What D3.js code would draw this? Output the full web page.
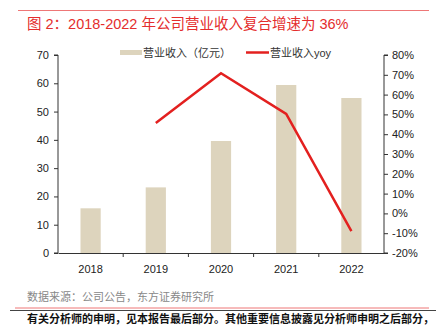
<!DOCTYPE html>
<html><head><meta charset="utf-8">
<script src="https://cdn.jsdelivr.net/npm/d3@7"></script>
<style>
body{margin:0;background:#fff;}
svg{display:block;}
text{font-family:"Liberation Sans",Arial,"Noto Sans CJK SC",sans-serif;}
.cjk{font-family:"Liberation Sans","Noto Sans CJK SC",sans-serif;}
</style></head>
<body>
<svg id="c" width="436" height="326"></svg>
<script>
const years = ["2018","2019","2020","2021","2022"];
const revenue = [15.8, 23.2, 39.6, 59.4, 54.8];
const yoyYears = ["2019","2020","2021","2022"];
const yoy = [45.7, 70.8, 50.2, -8.9];
const leftTicks = [0,10,20,30,40,50,60,70];
const rightTicks = [-20,-10,0,10,20,30,40,50,60,70,80];

const svg = d3.select("#c");
const L = 58, R = 384, T = 55, B = 253;

const x = d3.scaleBand().domain(years).range([L, R]).padding(0);
const yL = d3.scaleLinear().domain([0,70]).range([B, T]);
const yR = d3.scaleLinear().domain([-20,80]).range([B, T]);

// title
svg.append("line").attr("x1",18).attr("x2",429).attr("y1",10.5).attr("y2",10.5)
  .attr("stroke","#ee7777").attr("stroke-width",1.2);
svg.append("text").attr("class","cjk").attr("x",27).attr("y",29)
  .attr("fill","#e42d2d").attr("font-size",14.5)
  .text("图 2：2018-2022 年公司营业收入复合增速为 36%");

// bars
const bw = x.bandwidth()*0.31;
svg.append("g").selectAll("rect").data(years).join("rect")
  .attr("x", (d)=>x(d)+x.bandwidth()/2-bw/2)
  .attr("width", bw)
  .attr("y", (d,i)=>yL(revenue[i]))
  .attr("height", (d,i)=>B-yL(revenue[i]))
  .attr("fill","#ddd4bd");

// axes
const gl = svg.append("g").attr("transform",`translate(${L},0)`)
  .call(d3.axisLeft(yL).tickValues(leftTicks).tickSize(4).tickPadding(5));
const gr = svg.append("g").attr("transform",`translate(${R},0)`)
  .call(d3.axisRight(yR).tickValues(rightTicks).tickSize(4).tickPadding(4).tickFormat(d=>d+"%"));
const gx = svg.append("g").attr("transform",`translate(0,${B})`)
  .call(d3.axisBottom(x).tickSize(0).tickPadding(12));
gx.selectAll(".bnd").data(years.slice(1)).join("line").attr("class","bnd")
  .attr("x1",d=>x(d)).attr("x2",d=>x(d)).attr("y1",0).attr("y2",4).attr("stroke","#333");
[gl,gr,gx].forEach(g=>{
  g.selectAll(".domain").attr("stroke","#333");
  g.selectAll(".tick line").attr("stroke","#333");
  g.selectAll("text").attr("font-size",11).attr("fill","#222")
   .attr("font-family","'Liberation Sans',Arial,sans-serif");
});
gl.select(".domain").attr("d",`M-4,${T}H0V${B}H-4`);
gr.select(".domain").attr("d",`M4,${T}H0V${B}H4`);

// line
const line = d3.line().x((d,i)=>x(yoyYears[i])+x.bandwidth()/2).y(d=>yR(d));
svg.append("path").datum(yoy).attr("d",line).attr("fill","none")
  .attr("stroke","#e3201f").attr("stroke-width",2.5);

// legend
svg.append("rect").attr("x",120).attr("y",50).attr("width",22).attr("height",5).attr("fill","#ddd4bd");
svg.append("text").attr("class","cjk").attr("x",143).attr("y",57).attr("font-size",11).attr("fill","#333").text("营业收入（亿元）");
svg.append("line").attr("x1",246).attr("x2",269).attr("y1",52.5).attr("y2",52.5).attr("stroke","#e3201f").attr("stroke-width",2.5);
svg.append("text").attr("class","cjk").attr("x",270).attr("y",57).attr("font-size",11).attr("fill","#333").text("营业收入yoy");

// footer
svg.append("text").attr("class","cjk").attr("x",27).attr("y",301).attr("font-size",11).attr("fill","#888")
  .text("数据来源：公司公告，东方证券研究所");
svg.append("line").attr("x1",10).attr("x2",436).attr("y1",310.5).attr("y2",310.5).attr("stroke","#444").attr("stroke-width",1);
svg.append("line").attr("x1",15).attr("x2",429).attr("y1",308).attr("y2",308).attr("stroke","#ee7777").attr("stroke-width",1);
svg.append("text").attr("class","cjk").attr("x",27).attr("y",322.5).attr("font-size",11).attr("font-weight","bold").attr("fill","#111")
  .text("有关分析师的申明，见本报告最后部分。其他重要信息披露见分析师申明之后部分，");
</script>
</body></html>
